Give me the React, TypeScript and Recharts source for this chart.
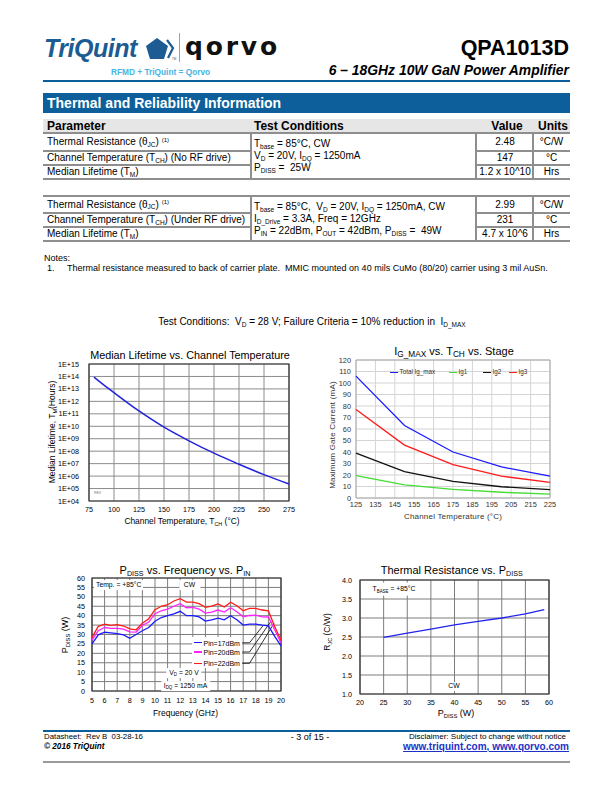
import React from 'react'
import { LineChart, Line, XAxis, YAxis, CartesianGrid, ReferenceArea, ReferenceLine } from 'recharts'

const FONT = '"Liberation Sans", Arial, Helvetica, sans-serif'
const BLUE = '#0c5f9a'

// Median lifetime vs channel temperature (hours)
const lifeTemp = [80, 90, 100, 125, 150, 175, 200, 225, 250, 275]
const lifeHours = [8.9e13, 2.0e13, 5.0e12, 1.7e11, 8.5e9, 6.8e8, 6.9e7, 9.0e6, 1.3e6, 2.3e5]
const lifeXTicks = [75, 100, 125, 150, 175, 200, 225, 250, 275]
const lifeYTicks = [1e4, 1e5, 1e6, 1e7, 1e8, 1e9, 1e10, 1e11, 1e12, 1e13, 1e14, 1e15]
const lifeYLabels = ['1E+04', '1E+05', '1E+06', '1E+07', '1E+08', '1E+09', '1E+10', '1E+11', '1E+12', '1E+13', '1E+14', '1E+15']

// Max gate current vs channel temperature (mA)
const gateTemp = [125, 150, 175, 200, 225]
const igTotal = [106, 63, 40, 27, 19]
const ig1 = [19.5, 11.5, 7.5, 5, 3.3]
const ig2 = [39, 23, 14.5, 9.8, 7.3]
const ig3 = [77, 46, 29, 19, 13.5]
const gateXTicks = [125, 135, 145, 155, 165, 175, 185, 195, 205, 215, 225]
const gateYTicks = [0, 10, 20, 30, 40, 50, 60, 70, 80, 90, 100, 110, 120]
const gateSeries = [
  { key: 'ig1', name: 'Ig1', color: '#44dd33' },
  { key: 'ig2', name: 'Ig2', color: '#111111' },
  { key: 'ig3', name: 'Ig3', color: '#ff1a1a' },
  { key: 'total', name: 'Total Ig_max', color: '#1a1aff' },
]
const gateLegendOrder = ['total', 'ig1', 'ig2', 'ig3']

// Pdiss vs frequency (W)
const freqGHz = [5, 5.5, 6, 6.5, 7, 7.5, 8, 8.5, 9, 9.5, 10, 10.5, 11, 11.5, 12, 12.5, 13, 13.5, 14, 14.5, 15, 15.5, 16, 16.5, 17, 17.5, 18, 18.5, 19, 19.5, 20]
const pdiss17 = [25, 29.8, 31.2, 30.9, 30.5, 29.8, 28, 30, 32, 33.7, 37, 39, 40, 41, 42.3, 40, 40, 39.3, 37.1, 37.8, 38.7, 37.8, 40, 37.8, 35, 35.5, 35.5, 35, 34.6, 29, 24]
const pdiss20 = [27, 32, 33.7, 33.2, 33.2, 32.9, 31.4, 31.3, 34.8, 36.6, 41, 42.6, 43.5, 45, 46.4, 44.2, 44.4, 43.5, 41.4, 41.9, 43, 41.9, 44.2, 42.1, 39.4, 40.1, 40.3, 39.4, 39.3, 32.5, 25.5]
const pdiss22 = [28.5, 34.3, 35.5, 34.8, 35.2, 34.5, 33, 32.5, 36, 38.4, 43.2, 45, 45.8, 47.8, 49, 47.2, 47.2, 46.4, 44.4, 45.1, 46.2, 44.6, 47.1, 45.3, 42.6, 43.9, 43.9, 43, 42.5, 34.3, 27]
const pinSeries = [
  { key: 'p17', name: 'Pin=17dBm', color: '#1a1aff', legendY: 25.6, tipX: 18.6, tipY: 34.9 },
  { key: 'p20', name: 'Pin=20dBm', color: '#ff22ff', legendY: 20.7, tipX: 19.2, tipY: 37 },
  { key: 'p22', name: 'Pin=22dBm', color: '#ff1a1a', legendY: 14.7, tipX: 19.45, tipY: 36 },
]
const freqTicks = [5, 6, 7, 8, 9, 10, 11, 12, 13, 14, 15, 16, 17, 18, 19, 20]
const pdissTicks = [0, 5, 10, 15, 20, 25, 30, 35, 40, 45, 50, 55, 60]

// Thermal resistance vs Pdiss
const rthPdiss = [25, 30, 35, 40, 45, 50, 55, 59]
const rthValue = [2.49, 2.6, 2.71, 2.82, 2.91, 3.0, 3.11, 3.22]
const rthXTicks = [20, 25, 30, 35, 40, 45, 50, 55, 60]
const rthYTicks = [1, 1.5, 2, 2.5, 3, 3.5, 4]

const lifeData = lifeTemp.map((t, i) => ({ t, h: lifeHours[i] }))
const gateData = gateTemp.map((t, i) => ({ t, total: igTotal[i], ig1: ig1[i], ig2: ig2[i], ig3: ig3[i] }))
const pdissData = freqGHz.map((f, i) => ({ f, p17: pdiss17[i], p20: pdiss20[i], p22: pdiss22[i] }))
const rthData = rthPdiss.map((p, i) => ({ p, r: rthValue[i] }))

const Sub = ({ children, s = 0.65 }: any) => (
  <span style={{ fontSize: `${s}em`, position: 'relative', top: '0.28em' }}>{children}</span>
)
const Sup = ({ children }: any) => (
  <span style={{ fontSize: '0.6em', position: 'relative', top: '-0.55em' }}>{children}</span>
)

function Txt({ x, y, size, children, anchor = 'start', bold = false, italic = false, color = '#000', bg, rotate, family = FONT, ls = 0, pad = 0, underline = false }: any) {
  const tx = anchor === 'middle' ? '-50%' : anchor === 'end' ? '-100%' : '0'
  return (
    <div
      style={{
        position: 'absolute', left: x, top: y,
        transform: `translate(${tx}, -50%)${rotate ? ` rotate(${rotate}deg)` : ''}`,
        fontSize: size, lineHeight: 1, whiteSpace: 'nowrap', fontFamily: family,
        fontWeight: bold ? 700 : 400, fontStyle: italic ? 'italic' : 'normal', color,
        background: bg, letterSpacing: ls, padding: pad, textDecoration: underline ? 'underline' : 'none',
      }}
    >
      {children}
    </div>
  )
}

const Box = ({ x, y, w, h, c }: any) => (
  <div style={{ position: 'absolute', left: x, top: y, width: w, height: h, background: c }} />
)

const tickStyle = { fontSize: 7.2, fill: '#000', fontFamily: FONT }

function LifetimeChart() {
  return (
    <div style={{ position: 'absolute', left: 40, top: 340 }}>
      <LineChart width={260} height={190} data={lifeData} margin={{ top: 24, right: 11, left: 0, bottom: 0 }}>
        <CartesianGrid stroke="#8c8c8c" strokeWidth={1} />
        <XAxis dataKey="t" type="number" domain={[75, 275]} ticks={lifeXTicks} interval={0} height={29}
          tickLine={false} axisLine={false} tickSize={2} tickMargin={4} tick={tickStyle} />
        <YAxis type="number" scale="log" domain={[1e4, 1e15]} ticks={lifeYTicks} interval={0} width={49} allowDataOverflow
          tickLine={false} axisLine={false} tickSize={4} tickMargin={6} tick={tickStyle}
          tickFormatter={(v: number) => lifeYLabels[lifeYTicks.indexOf(v)] ?? ''} />
        <ReferenceArea x1={75} x2={275} y1={1e4} y2={1e15} fill="none" stroke="#333" strokeWidth={1.2} />
        <Line type="monotone" dataKey="h" stroke="#2222dd" strokeWidth={1.5} dot={false} isAnimationActive={false} />
      </LineChart>
    </div>
  )
}

function GateChart() {
  const byKey: any = Object.fromEntries(gateSeries.map(s => [s.key, s]))
  const legendLeft = [390, 449, 483, 509]
  return (
    <>
      <div style={{ position: 'absolute', left: 320, top: 340 }}>
        <LineChart width={260} height={190} data={gateData} margin={{ top: 20, right: 30, left: 0, bottom: 0 }}>
          <CartesianGrid stroke="#d4d4d4" strokeWidth={1} />
          <XAxis dataKey="t" type="number" domain={[125, 225]} ticks={gateXTicks} interval={0} height={32}
            tickLine={false} axisLine={false} tickSize={2} tickMargin={2} tick={{ ...tickStyle, fontSize: 7.4, fill: '#333' }} />
          <YAxis type="number" domain={[0, 120]} ticks={gateYTicks} interval={0} width={36}
            tickLine={false} axisLine={false} tickSize={2} tickMargin={3} tick={{ ...tickStyle, fontSize: 7.4, fill: '#333' }} />
          <ReferenceArea x1={125} x2={225} y1={0} y2={120} fill="none" stroke="#a8a8a8" strokeWidth={1} />
          {gateSeries.map(s => (
            <Line key={s.key} type="linear" dataKey={s.key} name={s.name} stroke={s.color} strokeWidth={1.3} dot={false} isAnimationActive={false} />
          ))}
        </LineChart>
      </div>
      {gateLegendOrder.map((k, i) => (
        <React.Fragment key={k}>
          <Box x={legendLeft[i]} y={371.5} w={8} h={1.3} c={byKey[k].color} />
          <Txt x={legendLeft[i] + 9.5} y={372.3} size={6.3} color="#333">{byKey[k].name}</Txt>
        </React.Fragment>
      ))}
    </>
  )
}

function PdissChart() {
  return (
    <>
      <div style={{ position: 'absolute', left: 40, top: 560 }}>
        <LineChart width={260} height={170} data={pdissData} margin={{ top: 18, right: 19, left: 0, bottom: 0 }}>
          <CartesianGrid stroke="#7c7c7c" strokeWidth={1} />
          <XAxis dataKey="f" type="number" domain={[5, 20]} ticks={freqTicks} interval={0} height={39}
            tickLine={false} axisLine={false} tickSize={2} tickMargin={5} tick={tickStyle} />
          <YAxis type="number" domain={[0, 60]} ticks={pdissTicks} interval={0} width={52}
            tickLine={false} axisLine={false} tickSize={2} tickMargin={5} tick={tickStyle} />
          <ReferenceArea x1={5} x2={20} y1={0} y2={60} fill="none" stroke="#333" strokeWidth={1.2} />
          {pinSeries.map(s => (
            <ReferenceLine key={s.key + 'a'} segment={[{ x: 16.93, y: s.legendY }, { x: 17.5, y: s.legendY }]} stroke="#000" strokeWidth={0.8} />
          ))}
          {pinSeries.map(s => (
            <ReferenceLine key={s.key + 'b'} segment={[{ x: 17.5, y: s.legendY }, { x: s.tipX, y: s.tipY }]} stroke="#000" strokeWidth={0.8} />
          ))}
          {pinSeries.map(s => (
            <Line key={s.key} type="linear" dataKey={s.key} name={s.name} stroke={s.color} strokeWidth={1.3} dot={false} isAnimationActive={false} />
          ))}
        </LineChart>
      </div>
      <Box x={192} y={637} w={50} h={31} c="#fff" />
      {pinSeries.map((s, i) => (
        <React.Fragment key={s.key}>
          <Box x={194} y={[642, 651.4, 662.6][i]} w={8} h={1.4} c={s.color} />
          <Txt x={203.5} y={[642.7, 652, 663.3][i]} size={7}>{s.name}</Txt>
        </React.Fragment>
      ))}
      <Txt x={94} y={585} size={6.8} bg="#fff" pad="1.5px 2px">Temp. = +85°C</Txt>
      <Txt x={189.5} y={585} size={6.8} anchor="middle" bg="#fff" pad="1.5px 5px">CW</Txt>
      <Txt x={184} y={673.3} size={6.8} anchor="middle" bg="#fff" pad="1.5px 3px">V<Sub>D</Sub> = 20 V</Txt>
      <Txt x={185.5} y={686} size={6.8} anchor="middle" bg="#fff" pad="1.5px 3px">I<Sub>DQ</Sub> = 1250 mA</Txt>
    </>
  )
}

function RthChart() {
  return (
    <>
      <div style={{ position: 'absolute', left: 320, top: 560 }}>
        <LineChart width={260} height={170} data={rthData} margin={{ top: 20, right: 31, left: 0, bottom: 0 }}>
          <CartesianGrid stroke="#7c7c7c" strokeWidth={1} />
          <XAxis dataKey="p" type="number" domain={[20, 60]} ticks={rthXTicks} interval={0} height={36}
            tickLine={false} axisLine={false} tickSize={2} tickMargin={4} tick={tickStyle} />
          <YAxis type="number" domain={[1, 4]} ticks={rthYTicks} interval={0} width={40}
            tickLine={false} axisLine={false} tickSize={2} tickMargin={6} tick={tickStyle}
            tickFormatter={(v: number) => v.toFixed(1)} />
          <ReferenceArea x1={20} x2={60} y1={1} y2={4} fill="none" stroke="#333" strokeWidth={1.2} />
          <Line type="linear" dataKey="r" stroke="#2222ee" strokeWidth={1.3} dot={false} isAnimationActive={false} />
        </LineChart>
      </div>
      <Txt x={394} y={589.3} size={6.8} anchor="middle" bg="#fff" pad="3px 4px">T<Sub>BASE</Sub> = +85°C</Txt>
      <Txt x={454} y={686.7} size={6.8} anchor="middle" bg="#fff" pad="1.5px 3px">CW</Txt>
    </>
  )
}

const COLS = [43, 251, 476, 533, 570]
const LINE = '#8e8e8e'

function Table({ rows, conds, values, units, condY }: any) {
  const [r0, r1, r2, r3] = rows
  const mids = [(r0 + r1) / 2, (r1 + r2) / 2, (r2 + r3) / 2]
  return (
    <>
      <Box x={43} y={r0 - 0.75} w={527} h={1.5} c={LINE} />
      <Box x={43} y={r3 - 0.75} w={527} h={1.5} c={LINE} />
      {[r1, r2].map(y => (
        <React.Fragment key={y}>
          <Box x={43} y={y - 0.75} w={208} h={1.5} c={LINE} />
          <Box x={476} y={y - 0.75} w={94} h={1.5} c={LINE} />
        </React.Fragment>
      ))}
      {COLS.slice(1, 4).map(x => <Box key={x} x={x - 0.75} y={r0} w={1.5} h={r3 - r0} c={LINE} />)}
      {conds.params.map((p: any, i: number) => <Txt key={i} x={47} y={mids[i]} size={10}>{p}</Txt>)}
      {conds.lines.map((p: any, i: number) => <Txt key={i} x={254} y={condY[i]} size={10}>{p}</Txt>)}
      {values.map((v: string, i: number) => <Txt key={i} x={505} y={mids[i]} size={10} anchor="middle">{v}</Txt>)}
      {units.map((v: string, i: number) => <Txt key={i} x={551.5} y={mids[i]} size={10} anchor="middle">{v}</Txt>)}
    </>
  )
}

const paramsNoRF = [
  <>Thermal Resistance (θ<Sub>JC</Sub>) <Sup>(1)</Sup></>,
  <>Channel Temperature (T<Sub>CH</Sub>) (No RF drive)</>,
  <>Median Lifetime (T<Sub>M</Sub>)</>,
]
const paramsRF = [
  <>Thermal Resistance (θ<Sub>JC</Sub>) <Sup>(1)</Sup></>,
  <>Channel Temperature (T<Sub>CH</Sub>) (Under RF drive)</>,
  <>Median Lifetime (T<Sub>M</Sub>)</>,
]
const condsNoRF = [
  <>T<Sub>base</Sub> = 85°C, CW</>,
  <>V<Sub>D</Sub> = 20V, I<Sub>DQ</Sub> = 1250mA</>,
  <>P<Sub>DISS</Sub> =&nbsp; 25W</>,
]
const condsRF = [
  <>T<Sub>base</Sub> = 85°C,&nbsp; V<Sub>D</Sub> = 20V, I<Sub>DQ</Sub> = 1250mA, CW</>,
  <>I<Sub>D_Drive</Sub> = 3.3A, Freq = 12GHz</>,
  <>P<Sub>IN</Sub> = 22dBm, P<Sub>OUT</Sub> = 42dBm, P<Sub>DISS</Sub> =&nbsp; 49W</>,
]
const valuesNoRF = ['2.48', '147', '1.2 x 10^10']
const valuesRF = ['2.99', '231', '4.7 x 10^6']
const unitsList = ['°C/W', '°C', 'Hrs']

export default function App() {
  return (
    <div style={{ position: 'absolute', left: 0, top: 0, width: 612, height: 792, background: '#fff', overflow: 'hidden', fontFamily: FONT }}>
      {/* header */}
      <Txt x={44} y={48} size={25} bold italic color="#1c5c93" ls={-0.5}>TriQuint</Txt>
      <svg style={{ position: 'absolute', left: 145, top: 37 }} width={32} height={24}>
        <polygon points="12,1 23,9 19,22 5,22 1,9" fill="#1c5c93" />
        <polyline points="22,3 28,11 23,21" fill="none" stroke="#1c5c93" strokeWidth={2.2} />
        <text x={27} y={23} fontSize={3} fill="#555">TM</text>
      </svg>
      <Box x={179} y={33} w={1} h={29} c="#a0a0a0" />
      <Txt x={185} y={46} size={25} bold family='"DejaVu Sans", sans-serif' ls={2.8} color="#111">qorvo</Txt>
      <Txt x={111} y={72} size={8.3} bold color="#45b4e6">RFMD + TriQuint = Qorvo</Txt>
      <Txt x={569} y={49} size={21.5} bold anchor="end">QPA1013D</Txt>
      <Txt x={569} y={71} size={13.9} bold italic anchor="end">6 – 18GHz 10W GaN Power Amplifier</Txt>
      <Box x={43} y={80} w={527} h={2} c={BLUE} />

      {/* section */}
      <Box x={43} y={93} w={527} h={19.5} c={BLUE} />
      <Txt x={47} y={103} size={14} bold color="#fff">Thermal and Reliability Information</Txt>

      <Box x={43} y={119} w={527} h={14} c="#e6e6e6" />
      <Txt x={47} y={126} size={12} bold>Parameter</Txt>
      <Txt x={254} y={126} size={12} bold>Test Conditions</Txt>
      <Txt x={507} y={126} size={12} bold anchor="middle">Value</Txt>
      <Txt x={568} y={126} size={12} bold anchor="end">Units</Txt>

      <Table rows={[133, 151, 165, 179]} conds={{ params: paramsNoRF, lines: condsNoRF }} values={valuesNoRF} units={unitsList} condY={[144, 156, 168]} />
      <Table rows={[196, 213, 227, 241]} conds={{ params: paramsRF, lines: condsRF }} values={valuesRF} units={unitsList} condY={[207, 219, 231]} />

      <Txt x={44} y={258} size={9}>Notes:</Txt>
      <Txt x={47} y={268} size={9}>1.</Txt>
      <Txt x={67} y={268} size={9}>Thermal resistance measured to back of carrier plate.&nbsp; MMIC mounted on 40 mils CuMo (80/20) carrier using 3 mil AuSn.</Txt>
      <Txt x={312} y={322} size={10} anchor="middle">Test Conditions:&nbsp; V<Sub>D</Sub> = 28 V; Failure Criteria = 10% reduction in&nbsp; I<Sub>D_MAX</Sub></Txt>

      {/* chart 1 */}
      <Txt x={190} y={355} size={10.8} anchor="middle">Median Lifetime vs. Channel Temperature</Txt>
      <LifetimeChart />
      <Txt x={94} y={494} size={3.5} color="#777">REV</Txt>
      <Txt x={51.5} y={432} size={8.5} anchor="middle" rotate={-90}>Median Lifetime, T<Sub>M</Sub>(Hours)</Txt>
      <Txt x={182} y={521} size={8.4} anchor="middle">Channel Temperature, T<Sub>CH</Sub> (°C)</Txt>

      {/* chart 2 */}
      <Txt x={454} y={352} size={11} anchor="middle">I<Sub s={0.75}>G_MAX</Sub> vs. T<Sub s={0.75}>CH</Sub> vs. Stage</Txt>
      <GateChart />
      <Txt x={333.3} y={435} size={8} anchor="middle" rotate={-90} color="#333" ls={0.2}>Maximum Gate Current (mA)</Txt>
      <Txt x={453} y={516.7} size={8} anchor="middle" color="#333" ls={0.2}>Channel Temperature (°C)</Txt>

      {/* chart 3 */}
      <Txt x={185} y={571} size={11} anchor="middle">P<Sub>DISS</Sub> vs. Frequency vs. P<Sub>IN</Sub></Txt>
      <PdissChart />
      <Txt x={65} y={635} size={9} anchor="middle" rotate={-90}>P<Sub>DISS</Sub> (W)</Txt>
      <Txt x={185.5} y={712.7} size={8.5} anchor="middle">Frequency (GHz)</Txt>

      {/* chart 4 */}
      <Txt x={451.7} y={571} size={11} anchor="middle">Thermal Resistance vs. P<Sub>DISS</Sub></Txt>
      <RthChart />
      <Txt x={327.3} y={632} size={8.5} anchor="middle" rotate={-90}>R<Sub>JC</Sub> (C/W)</Txt>
      <Txt x={456} y={713.3} size={9} anchor="middle">P<Sub>DISS</Sub> (W)</Txt>

      {/* footer */}
      <Box x={43} y={730} w={527} h={2} c={BLUE} />
      <Txt x={44} y={737} size={7.8}>Datasheet:&nbsp; Rev B&nbsp; 03-28-16</Txt>
      <Txt x={44} y={746.5} size={8.2} bold italic>© 2016 TriQuint</Txt>
      <Txt x={310} y={737} size={9} anchor="middle">- 3 of 15 -</Txt>
      <Txt x={566} y={737} size={8} anchor="end">Disclaimer: Subject to change without notice</Txt>
      <Txt x={569} y={746.5} size={10} bold anchor="end" color="#1d32c4" underline>www.triquint.com, www.qorvo.com</Txt>
      <Box x={43} y={761} w={527} h={1.5} c="#9a9a9a" />
    </div>
  )
}
